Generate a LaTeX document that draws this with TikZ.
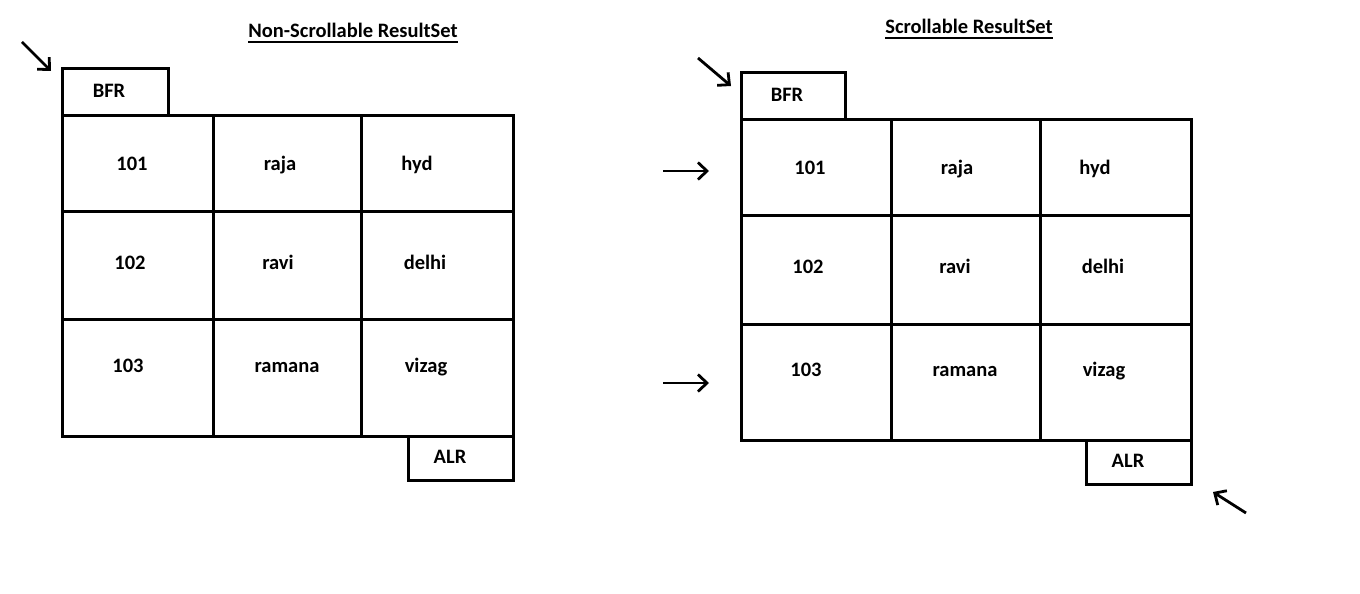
\documentclass[tikz,border=0pt]{standalone}
\usepackage{fontspec}
\setmainfont{Carlito}
\usetikzlibrary{arrows.meta}
\begin{document}
\begin{tikzpicture}[x=1pt,y=-1pt,
  grid/.style={line width=3pt, line join=miter},
  txt/.style={font=\fontsize{20.5}{22}\selectfont\bfseries, inner sep=0pt, anchor=base},
  ttl/.style={font=\fontsize{20.5}{22}\selectfont\bfseries, inner sep=0pt, anchor=base},
  ptr/.style={line width=2.8pt, -{Straight Barb[length=9pt,width=17pt,line width=2.8pt]}}]
\useasboundingbox[fill=white] (0,0) rectangle (1360,594);

% ---------- Left: Non-Scrollable ----------
\node[ttl] (t1) at (353,38) {Non-Scrollable ResultSet};
\draw[line width=2.2pt] ([yshift=-4pt]t1.base west) -- ([yshift=-4pt]t1.base east);

\draw[grid] (62,115) rectangle (168,69);
\draw[grid] (62,115) rectangle (513,436);
\draw[grid] (213,115) -- (213,436);
\draw[grid] (361,115) -- (361,436);
\draw[grid] (62,211) -- (513,211);
\draw[grid] (62,319) -- (513,319);
\draw[grid] (408,436) rectangle (513,480);

\node[txt] (lbfr) at (109,97) {BFR};
\node[txt] (lalr) at (450,463) {ALR};
\node[txt] (l11) at (132,170) {101};
\node[txt] (l12) at (280,170) {raja};
\node[txt] (l13) at (417,170) {hyd};
\node[txt] (l21) at (130,269) {102};
\node[txt] (l22) at (278,269) {ravi};
\node[txt] (l23) at (425,269) {delhi};
\node[txt] (l31) at (128,372) {103};
\node[txt] (l32) at (287,372) {ramana};
\node[txt] (l33) at (426,372) {vizag};

\coordinate (la0) at (22,42);
\coordinate (la1) at (51,71);
\draw[ptr] (la0) -- (la1);

% ---------- Right: Scrollable ----------
\node[ttl] (t2) at (969,34) {Scrollable ResultSet};
\draw[line width=2.2pt] ([yshift=-4pt]t2.base west) -- ([yshift=-4pt]t2.base east);

\draw[grid] (741,119) rectangle (845,73);
\draw[grid] (741,119) rectangle (1191,440);
\draw[grid] (891,119) -- (891,440);
\draw[grid] (1040,119) -- (1040,440);
\draw[grid] (741,215) -- (1191,215);
\draw[grid] (741,324) -- (1191,324);
\draw[grid] (1086,440) rectangle (1191,484);

\node[txt] (rbfr) at (787,101) {BFR};
\node[txt] (ralr) at (1128,467) {ALR};
\node[txt] (r11) at (810,174) {101};
\node[txt] (r12) at (957,174) {raja};
\node[txt] (r13) at (1095,174) {hyd};
\node[txt] (r21) at (808,273) {102};
\node[txt] (r22) at (955,273) {ravi};
\node[txt] (r23) at (1103,273) {delhi};
\node[txt] (r31) at (806,376) {103};
\node[txt] (r32) at (965,376) {ramana};
\node[txt] (r33) at (1104,376) {vizag};

\coordinate (ra0) at (698,58);
\coordinate (ra1) at (731,86);
\draw[ptr] (ra0) -- (ra1);
\coordinate (rb0) at (663,171);
\coordinate (rb1) at (709,171);
\draw[ptr] (rb0) -- (rb1);
\coordinate (rc0) at (663,383);
\coordinate (rc1) at (709,383);
\draw[ptr] (rc0) -- (rc1);
\coordinate (rd0) at (1246,513);
\coordinate (rd1) at (1213,492);
\draw[ptr] (rd0) -- (rd1);
\end{tikzpicture}
\end{document}
